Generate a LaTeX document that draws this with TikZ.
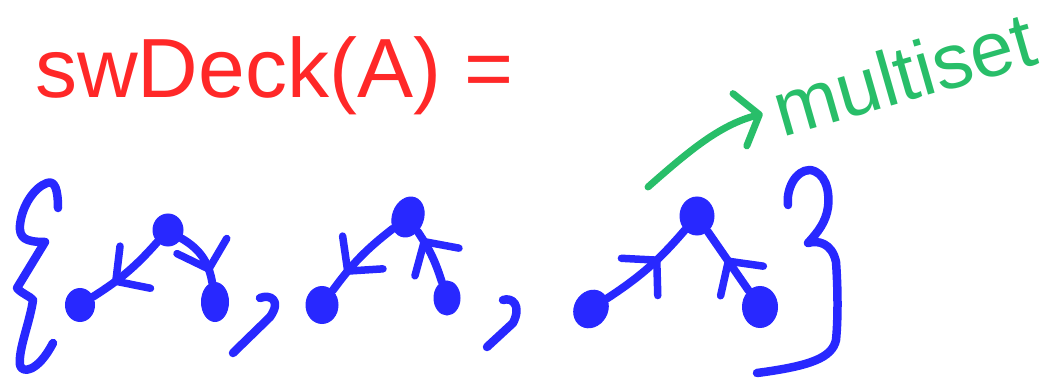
\documentclass[tikz,border=0pt]{standalone}
\usepackage{fontspec}
\setmainfont{Liberation Sans}
\usetikzlibrary{arrows.meta,decorations.markings,shapes.geometric}
\definecolor{pblue}{RGB}{40,40,255}
\definecolor{pred}{RGB}{255,40,40}
\definecolor{pgreen}{RGB}{40,190,105}
\begin{document}
\begin{tikzpicture}[x=1pt,y=-1pt,
  ink/.style={line width=8.5pt,line cap=round,line join=round,draw=pblue},
  vertex/.style={ellipse,fill=pblue,draw=pblue,line width=1pt,inner sep=0pt},
  edge/.style={line width=8pt,line cap=round,draw=pblue},
  arr/.style={postaction={decorate,decoration={markings,mark=at position #1 with {\arrow[pblue]{Straight Barb[length=24pt,width=52pt,line width=7.5pt,round]}}}}},
  gink/.style={line width=7pt,line cap=round,line join=round,draw=pgreen},
]
\useasboundingbox (0,0) rectangle (1043,382);

% title
\node[text=pred, font=\fontsize{84}{84}\selectfont, anchor=base west, inner sep=0pt] (title) at (35,98) {swDeck(A) =};

% multiset label
\node[text=pgreen, font=\fontsize{78}{78}\selectfont, rotate=16, anchor=base west, inner sep=2pt] (ms) at (780,138) {multiset};
\coordinate (gs) at (648,187);
\draw[gink, -{Straight Barb[length=20pt,width=54pt,line width=7pt,round]}, shorten >=10pt] (gs) .. controls (690,150) and (720,125) .. (ms.west);

% braces
\draw[ink] (58,208) .. controls (58,190) and (55,180) .. (47,183)
  .. controls (35,187) and (22,205) .. (20,225)
  .. controls (19,238) and (25,242) .. (45,242)
  -- (17,288)
  .. controls (22,294) and (30,296) .. (33,300)
  .. controls (30,322) and (18,350) .. (20,365)
  .. controls (22,374) and (38,372) .. (53,343);
\draw[ink] (788,205) .. controls (786,190) and (795,170) .. (810,170)
  .. controls (825,172) and (830,190) .. (828,207)
  .. controls (826,222) and (818,232) .. (808,243)
  .. controls (818,240) and (832,243) .. (836,262)
  .. controls (838,290) and (838,320) .. (836,340)
  .. controls (832,358) and (810,366) .. (757,373);

% commas
\draw[ink] (260,298) .. controls (270,294) and (282,300) .. (270,317) -- (233,353);
\draw[ink] (503,300) .. controls (512,297) and (522,305) .. (513,323) -- (487,347);

% graph 1
\node[vertex,minimum width=30pt,minimum height=32pt] (t1) at (168,230) {};
\node[vertex,minimum width=29pt,minimum height=33pt] (l1) at (80,305) {};
\node[vertex,minimum width=27pt,minimum height=39pt] (r1) at (215,302) {};
\draw[edge,arr=0.72] (t1) to[bend left=8] (l1);
\draw[edge,arr=0.82] (t1) to[bend left=25] (r1);

% graph 2
\node[vertex,minimum width=31pt,minimum height=41pt,rotate=-20] (t2) at (408,217) {};
\node[vertex,minimum width=32pt,minimum height=37pt] (l2) at (322,305) {};
\node[vertex,minimum width=26pt,minimum height=34pt] (r2) at (447,298) {};
\draw[edge,arr=0.76] (t2) to[bend right=8] (l2);
\draw[edge,arr=0.85] (r2) to[bend right=8] (t2);

% graph 3
\node[vertex,minimum width=34pt,minimum height=38pt] (t3) at (697,216) {};
\node[vertex,minimum width=33pt,minimum height=39pt,rotate=-30] (l3) at (591,309) {};
\node[vertex,minimum width=35pt,minimum height=41pt] (r3) at (760,307) {};
\draw[edge,arr=0.64] (l3) to[bend right=8] (t3);
\draw[edge,arr=0.55] (r3) -- (t3);
\end{tikzpicture}
\end{document}
